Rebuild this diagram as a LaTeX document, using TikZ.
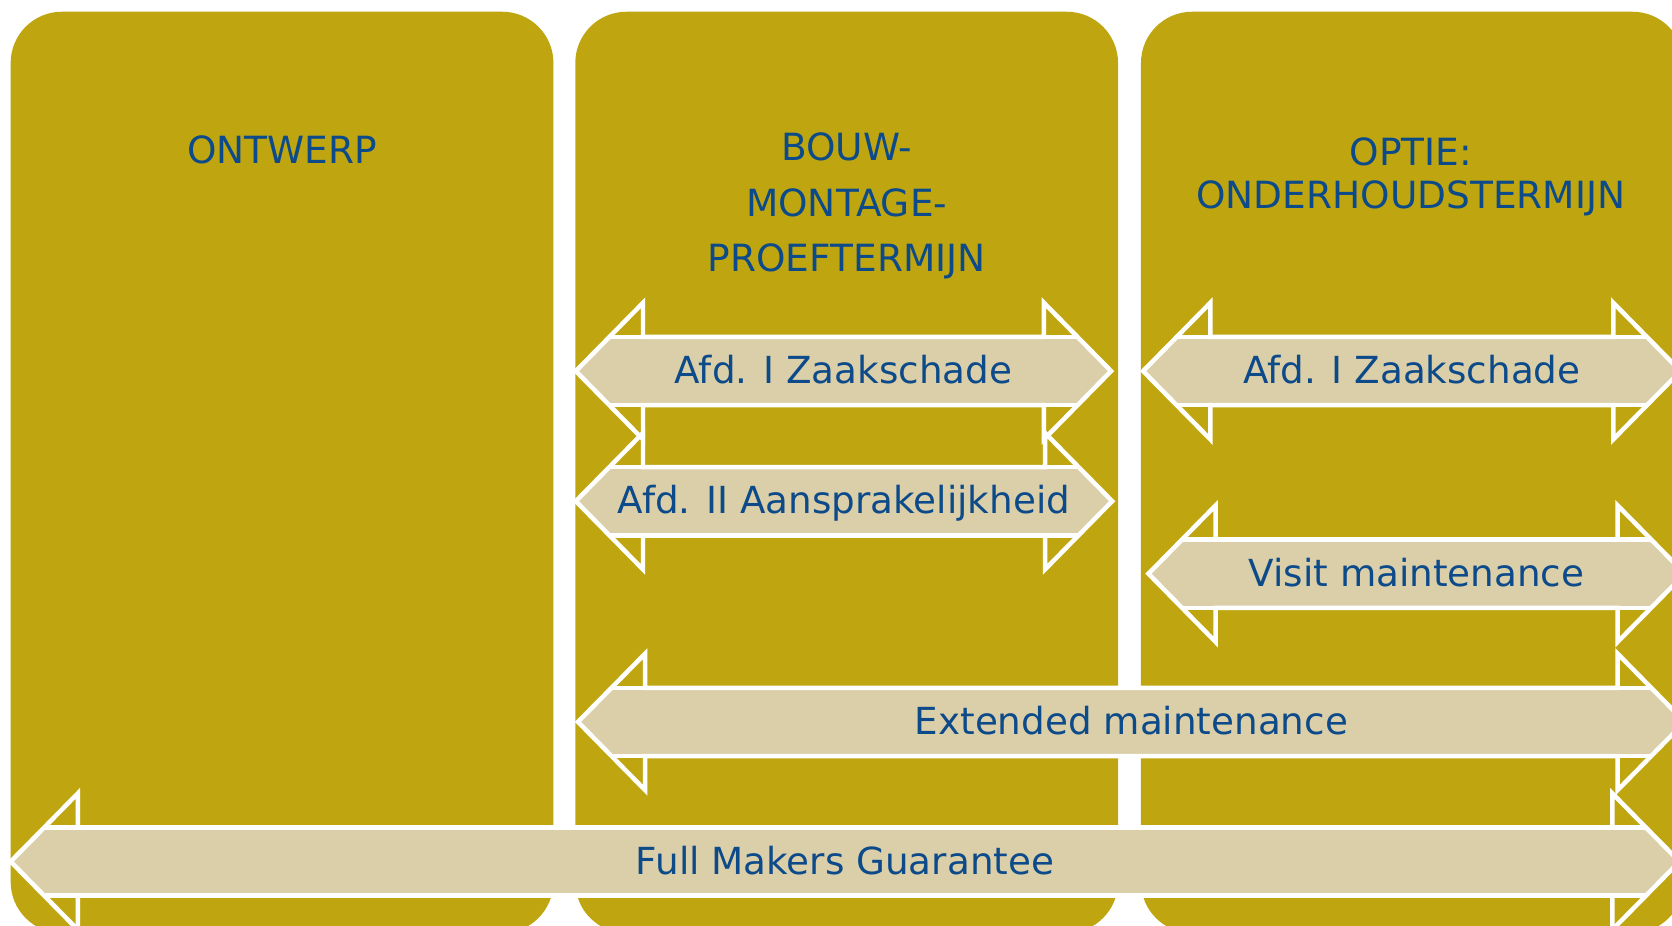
\documentclass[tikz,border=0pt]{standalone}
\usepackage{fontspec}
\setmainfont{DejaVu Sans}
\usetikzlibrary{calc}
\definecolor{barolive}{RGB}{191,166,16}
\definecolor{barbeige}{RGB}{219,207,169}
\definecolor{barblue}{RGB}{12,74,138}

% double arrow: left tip, right tip, height, name, label
\newcommand{\bararrow}[5]{%
	\begin{scope}
		\clip (#1,{#3-32}) rectangle (#2,{#3+32});
		\fill[barbeige] (#1,#3) -- ({#1+63},{#3-64}) -- ({#2-63},{#3-64}) -- (#2,#3) -- ({#2-63},{#3+64}) -- ({#1+63},{#3+64}) -- cycle;
	\end{scope}
	\draw[outline] (#1,#3) -- ({#1+63},{#3-64}) -- ({#1+63},{#3-32}) -- ({#2-63},{#3-32}) -- ({#2-63},{#3-64}) -- (#2,#3)
		-- ({#2-63},{#3+64}) -- ({#2-63},{#3+32}) -- ({#1+63},{#3+32}) -- ({#1+63},{#3+64}) -- cycle;
	\draw[outline] ({#1+31.5},{#3-32}) -- ({#2-31.5},{#3-32}) ({#1+31.5},{#3+32}) -- ({#2-31.5},{#3+32});
	\node[barlabel] (#4) at ({(#1+#2)/2},{#3+12}) {#5};
}

\begin{document}
\begin{tikzpicture}[x=0.1mm,y=-0.1mm]
	\tikzstyle{column} = [fill=barolive,rounded corners=4.8mm,minimum width=50.9mm,minimum height=86.4mm,inner sep=0pt]
	\tikzstyle{header} = [text=barblue,align=center,anchor=north,inner sep=0pt]
	\tikzstyle{outline} = [draw=white,line width=1.2pt]
	\tikzstyle{barlabel} = [text=barblue,anchor=base,inner sep=0pt,font=\fontsize{9.95}{12}\selectfont]
	\clip (0,0) rectangle (1568,868);
	\fill[white] (0,0) rectangle (1568,868);
	% Columns.
	\node[column] (col1) at (264.5,443) {};
	\node[column] (col2) at (794,443) {};
	\node[column] (col3) at (1324.5,443) {};
	\node[header,font=\fontsize{10}{14.8}\selectfont] (ontwerp) at (264.5,127) {ONTWERP};
	\node[header,font=\fontsize{10}{14.8}\selectfont] (bouw) at (794,124) {BOUW-\\MONTAGE-\\PROEFTERMIJN};
	\node[header,font=\fontsize{10}{11.7}\selectfont] (optie) at (1323,128) {OPTIE:\\ONDERHOUDSTERMIJN};
	% Arrows.
	\bararrow{540}{1042}{348}{zaak1}{Afd. I Zaakschade}
	\bararrow{540}{1043}{470}{aansp}{Afd. II Aansprakelijkheid}
	\bararrow{1072}{1576}{348}{zaak2}{Afd. I Zaakschade}
	\bararrow{1077}{1580}{538}{visit}{Visit maintenance}
	\bararrow{542}{1580}{677}{extended}{Extended maintenance}
	\bararrow{10}{1575}{808}{fullmakers}{Full Makers Guarantee}
\end{tikzpicture}
\end{document}
